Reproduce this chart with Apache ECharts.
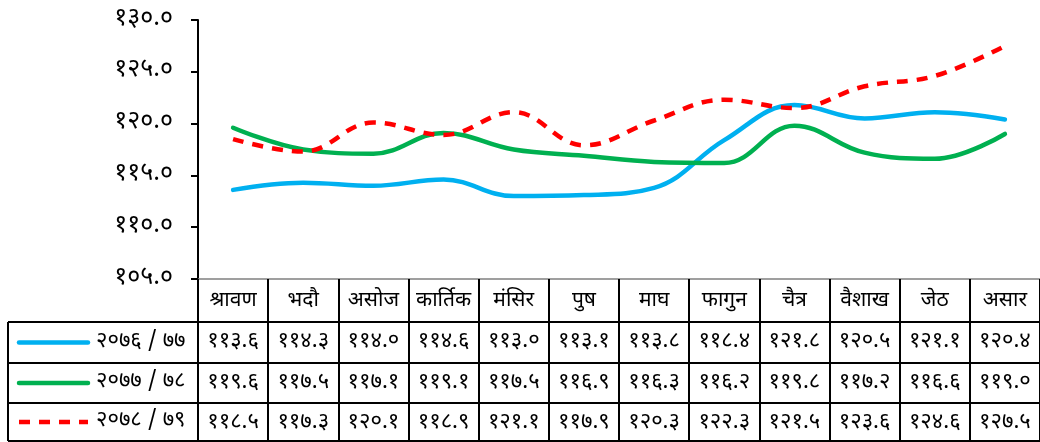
<!DOCTYPE html>
<html>
<head>
<meta charset="utf-8">
<script src="https://cdn.jsdelivr.net/npm/echarts@6/dist/echarts.min.js"></script>
<style>
  html, body { margin: 0; padding: 0; background: #fff; }
  #main { width: 1040px; height: 442px; }
</style>
</head>
<body>
<div id="main"></div>
<script>
var months = ['श्रावण', 'भदौ', 'असोज', 'कार्तिक', 'मंसिर', 'पुष', 'माघ', 'फागुन', 'चैत्र', 'वैशाख', 'जेठ', 'असार'];
var seriesNames = ['2076/77', '2077/78', '2078/79'];
var fy7677 = [113.6, 114.3, 114.0, 114.6, 113.0, 113.1, 113.8, 118.4, 121.8, 120.5, 121.1, 120.4];
var fy7778 = [119.6, 117.5, 117.1, 119.1, 117.5, 116.9, 116.3, 116.2, 119.8, 117.2, 116.6, 119.0];
var fy7879 = [118.5, 117.3, 120.1, 118.9, 121.1, 117.9, 120.3, 122.3, 121.5, 123.6, 124.6, 127.5];
var yTicks = { min: 105, max: 130, step: 5 };

var colors = ['#00B0F0', '#00B050', '#FF0000'];
var rows = [fy7677, fy7778, fy7879];
var FONT = '"Noto Sans Devanagari", "Lohit Devanagari", Mangal, "Noto Sans", "DejaVu Sans", sans-serif';

// western digits -> devanagari
function dev(s) {
  var d = '०१२३४५६७८९';
  return String(s).replace(/[0-9]/g, function (c) { return d[+c]; });
}

var chart = echarts.init(document.getElementById('main'));

// table row lines (offsets below the plot bottom)
var rowOffsets = [43, 84, 124, 162];

var xAxes = [{
  type: 'category',
  data: months,
  position: 'bottom',
  boundaryGap: true,
  axisLine: { show: true, lineStyle: { color: '#808080', width: 1.5 } },
  axisTick: { show: true, alignWithLabel: false, interval: 0, length: 162, lineStyle: { color: '#000', width: 2 } },
  axisLabel: { interval: 0, margin: 23, verticalAlign: 'middle', color: '#000', fontSize: 21, fontFamily: FONT }
}];

rowOffsets.forEach(function (off, k) {
  xAxes.push({
    type: 'category',
    data: months,
    position: 'bottom',
    offset: off,
    boundaryGap: true,
    axisLine: { show: true, onZero: false, lineStyle: { color: '#000', width: 2 } },
    axisTick: { show: false },
    axisLabel: {
      show: k < 3,
      interval: 0,
      margin: 21,
      verticalAlign: 'middle',
      color: '#000',
      fontSize: 22,
      fontFamily: FONT,
      formatter: function (v, i) { return rows[k] ? dev(rows[k][i].toFixed(1)) : ''; }
    }
  });
});

var series = rows.map(function (r, k) {
  return {
    name: seriesNames[k],
    type: 'line',
    data: r,
    smooth: 0.4,
    symbol: 'none',
    lineStyle: {
      color: colors[k],
      width: 4.5,
      type: k === 2 ? [11, 9] : 'solid',
      cap: k === 2 ? 'butt' : 'round'
    },
    itemStyle: { color: colors[k] }
  };
});

// legend cells on the left of the table
var legendG = [];
var rowTops = [322, 363, 403, 441];
rowTops.forEach(function (y) {
  legendG.push({ type: 'line', shape: { x1: 8, y1: y, x2: 198, y2: y }, style: { stroke: '#000', lineWidth: 2 } });
});
legendG.push({ type: 'line', shape: { x1: 8, y1: 322, x2: 8, y2: 441 }, style: { stroke: '#000', lineWidth: 2 } });
for (var k = 0; k < 3; k++) {
  var cy = (rowTops[k] + rowTops[k + 1]) / 2;
  legendG.push({
    type: 'line',
    shape: { x1: 19, y1: cy, x2: 88, y2: cy },
    style: { stroke: colors[k], lineWidth: 4.5, lineCap: k === 2 ? 'butt' : 'round', lineDash: k === 2 ? [11, 9] : null }
  });
  legendG.push({
    type: 'text',
    x: 96, y: cy,
    style: {
      text: dev(seriesNames[k].replace('/', ' / ')),
      fill: '#000', fontSize: 22, fontFamily: FONT,
      verticalAlign: 'middle', align: 'left'
    }
  });
}

chart.setOption({
  backgroundColor: '#fff',
  animation: false,
  grid: { left: 198, right: 0, top: 20, bottom: 163, containLabel: false },
  xAxis: xAxes,
  yAxis: {
    type: 'value',
    min: yTicks.min,
    max: yTicks.max,
    interval: yTicks.step,
    axisLine: { show: true, lineStyle: { color: '#000', width: 2 } },
    axisTick: { show: true, length: 7, lineStyle: { color: '#000', width: 2 } },
    splitLine: { show: false },
    axisLabel: {
      margin: 25,
      color: '#000',
      fontSize: 25,
      fontFamily: FONT,
      formatter: function (v) { return dev(v.toFixed(1)); }
    }
  },
  series: series,
  graphic: legendG
});
</script>
</body>
</html>
